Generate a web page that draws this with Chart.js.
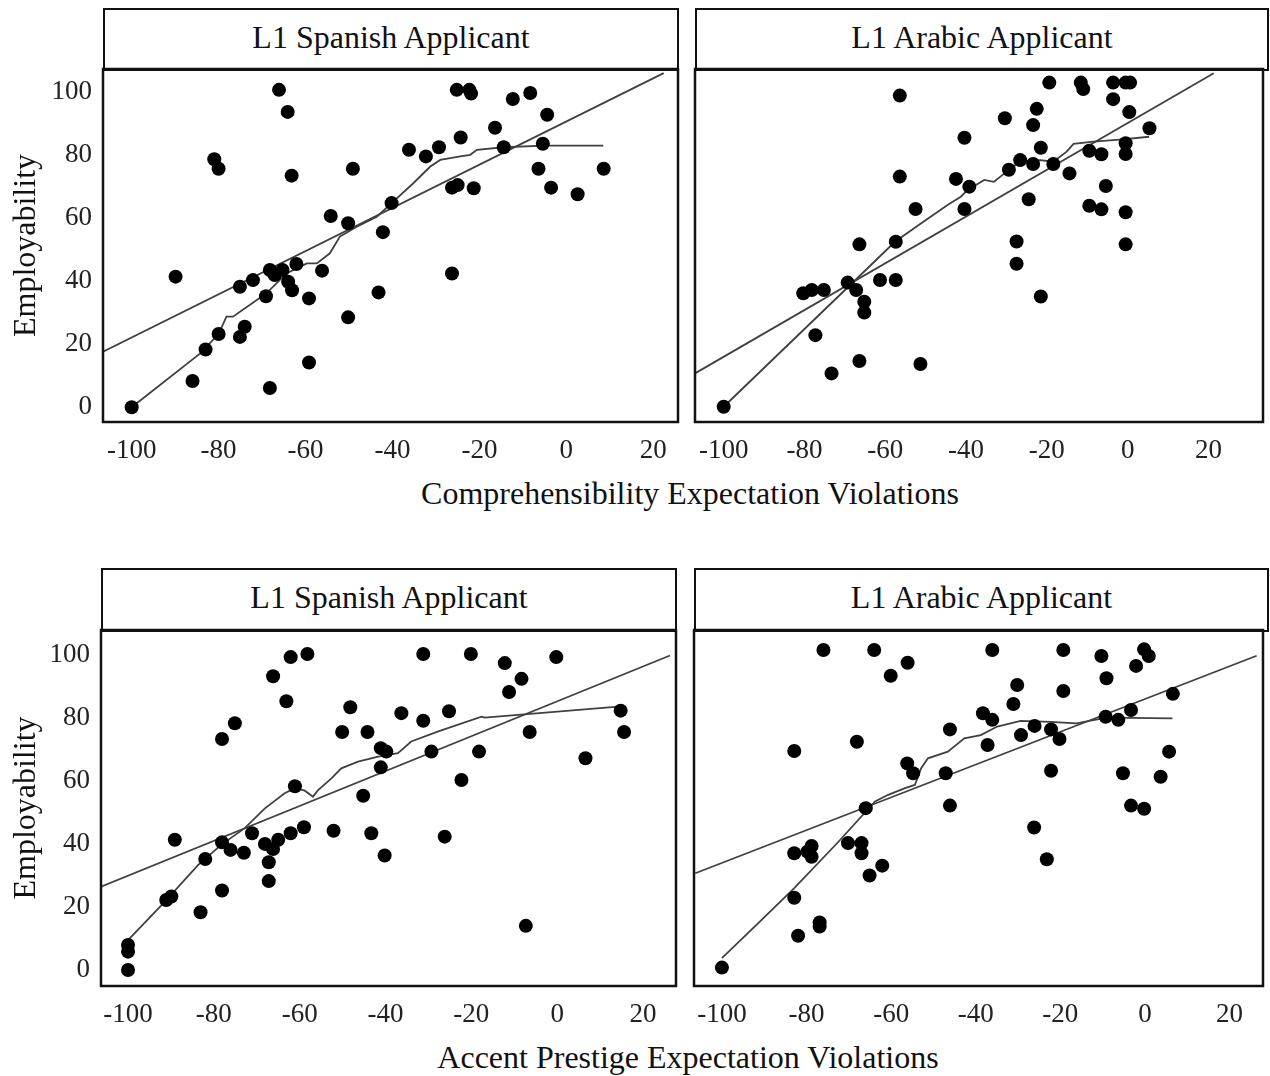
<!DOCTYPE html>
<html>
<head>
<meta charset="utf-8">
<script src="https://cdn.jsdelivr.net/npm/chart.js@4"></script>
<style>
  html, body { margin: 0; padding: 0; background: #fff; }
  body { width: 1270px; height: 1076px; position: relative; overflow: hidden; font-family: "Liberation Serif", "DejaVu Serif", serif; color: #111; }
  canvas { position: absolute; }
  .hdr { position: absolute; box-sizing: border-box; border: 2.5px solid #111; display: flex; align-items: center; justify-content: center; font-size: 32px; background: #fff; padding-bottom: 5px; }
  .xlab { position: absolute; font-size: 32px; white-space: nowrap; transform: translateX(-50%); }
</style>
</head>
<body>
<div class="hdr" id="h1" style="left:103px; top:8px; width:576px; height:63px;"></div>
<div class="hdr" id="h2" style="left:695px; top:8px; width:574px; height:63px;"></div>
<div class="hdr" id="h3" style="left:101px; top:568px; width:576px; height:64px;"></div>
<div class="hdr" id="h4" style="left:694px; top:568px; width:575px; height:64px;"></div>
<div class="xlab" id="xl1" style="left:690px; top:475px;"></div>
<div class="xlab" id="xl2" style="left:688px; top:1039px;"></div>

<canvas id="c1" width="690" height="420" style="left:0px; top:60px;"></canvas>
<canvas id="c2" width="585" height="420" style="left:685px; top:60px;"></canvas>
<canvas id="c3" width="690" height="420" style="left:0px; top:620px;"></canvas>
<canvas id="c4" width="586" height="420" style="left:684px; top:620px;"></canvas>

<script>
// ---- text ----
const panelTitles = ["L1 Spanish Applicant", "L1 Arabic Applicant"];
const yAxisTitle = "Employability";
const xAxisTitles = ["Comprehensibility Expectation Violations", "Accent Prestige Expectation Violations"];
const xTicks = [-100, -80, -60, -40, -20, 0, 20];
const yTicks = [0, 20, 40, 60, 80, 100];

// ---- Comprehensibility, L1 Spanish ----
const compSpanishX = [-100,-86,-83,-80,-75.1,-74,-89.9,-81,-80,-75.1,-72.1,-69.1,-68.2,-67.1,-65.3,-64,-63.1,-62.1,-68.2,-66.1,-64.1,-63.2,-59.2,-59.2,-56.2,-54.2,-50.2,-49.1,-43.2,-50.2,-42.2,-40.2,-36.2,-32.3,-29.3,-26.3,-26.3,-25,-24.3,-25.2,-22.3,-21.9,-21.3,-16.4,-14.4,-12.3,-8.3,-4.4,-5.4,-6.4,-3.5,2.6,8.6];
const compSpanishY = [0,8.3,18.3,23.2,22.3,25.5,41.4,78.6,75.6,38.2,40.3,35.2,43.5,41.9,43.5,39.8,37.1,45.4,6.1,100.6,93.6,73.4,34.5,14.2,43.3,60.6,58.3,75.6,36.4,28.5,55.5,64.7,81.6,79.5,82.4,42.4,69.6,70.4,85.5,100.6,100.6,99.4,69.4,88.6,82.4,97.7,99.6,92.7,83.5,75.6,69.6,67.5,75.6];
const compSpanishFitX = [-106.6, 22.4];
const compSpanishFitY = [17.6, 105.9];
const compSpanishSmoothX = [-100,-84.3,-80,-78.2,-76.7,-69,-64.4,-59.7,-57.4,-54.4,-52.1,-48.2,-43.6,-40.2,-35.2,-31.3,-29,-24.4,-22.1,-20.6,-14.4,-5.2,8.5];
const compSpanishSmoothY = [0,17,23.2,28.7,28.7,36.1,42.4,45.6,45.6,48.8,54.1,57.2,60.4,64.7,71,76.3,78.4,79.5,80,81.6,82.4,82.9,82.9];

// ---- Comprehensibility, L1 Arabic ----
const compArabicX = [-100,-77.3,-73.3,-66.4,-51.3,-80.3,-78.2,-75.2,-69.3,-67.2,-65.2,-65.2,-61.3,-57.4,-66.4,-57.4,-52.5,-56.4,-56.4,-42.5,-39.2,-40.4,-40.4,-30.4,-29.4,-26.6,-23.4,-23.4,-22.5,-21.5,-24.5,-27.5,-27.5,-21.5,-19.4,-18.4,-14.4,-11.6,-11,-9.5,-9.5,-6.5,-6.5,-5.4,-3.6,-3.6,-0.5,0.6,0.4,-0.5,-0.5,-0.5,-0.5,5.4];
const compArabicY = [0,22.1,10.3,14.1,13.2,35,36,36,38.3,36,32.4,29.1,39.1,39.1,50.1,50.9,61,71,96,70.3,67.9,61,83,89,73.1,76.1,74.9,86.9,91.9,79.9,64,51,44.1,34,100,74.9,72,100,98,79,62,77.9,60.9,68.1,100,94.9,100,100,90.9,81.3,78,60,50.1,85.9];
const compArabicFitX = [-107.1, 21.3];
const compArabicFitY = [10.3, 102.9];
const compArabicSmoothX = [-100,-67.4,-57.6,-51.1,-44.5,-41.3,-39.6,-35.5,-33.1,-31.5,-29.4,-26.6,-21.6,-18.4,-15.1,-13.4,-8.5,-1.2,5.3];
const compArabicSmoothY = [0,39.1,50.9,56.6,62.3,64.8,66.9,70,69.4,71,73.1,75.6,76.1,75.6,78.7,81.1,81.8,82.5,83.3];

// ---- Accent prestige, L1 Spanish ----
const accSpanishX = [-100,-100,-100,-91.1,-89.9,-83.1,-78.1,-82,-89.1,-78.1,-76.1,-73,-71.1,-68.1,-66.2,-65,-67.2,-67.2,-62.1,-59,-61.1,-78.1,-75.1,-66.2,-62.1,-58.2,-63.1,-52.1,-48.2,-50.1,-44.2,-45.2,-43.3,-40.2,-41.1,-39.8,-41.1,-36.3,-31.2,-31.2,-25.2,-29.3,-26.2,-22.3,-20.1,-18.2,-12.2,-8.3,-11.2,-6.4,-7.3,-0.2,6.6,14.8,15.6];
const accSpanishY = [0,5.8,7.9,22.2,23.3,18.3,25.2,35.2,41.3,40.5,38.1,37.2,43.4,40,38.4,41.3,34.2,28.2,43.4,45.3,58.3,73.3,78.3,93.2,99.3,100.3,85.3,44.2,83.4,75.5,75.5,55.3,43.4,36.3,70.4,69.3,64.3,81.5,100.3,79.1,82.1,69.3,42.3,60.3,100.3,69.3,97.4,92.4,88.2,75.5,14,99.3,67.2,82.3,75.5];
const accSpanishFitX = [-106.3, 26.3];
const accSpanishFitY = [26.4, 99.8];
const accSpanishSmoothX = [-100,-91.4,-83.7,-78.3,-72.8,-68.1,-63.5,-61.1,-58.8,-56.9,-55.7,-52.6,-50.3,-46.4,-41.7,-37.1,-34,-27.7,-17.6,-16.9,14.2];
const accSpanishSmoothY = [9.5,21.7,33.3,39.7,45,51.3,56.1,57.7,56.9,55,57.1,60.8,64,66.1,67.7,68.8,72.5,75.7,80.4,80.1,83.6];

// ---- Accent prestige, L1 Arabic ----
const accArabicX = [-100,-82,-76.9,-76.9,-82.9,-82.9,-79.8,-78.8,-78.8,-70.2,-67,-67,-65.1,-62.1,-66,-82.9,-68.1,-76,-64,-60.1,-56.1,-56.2,-54.8,-47.1,-46.1,-46.1,-38.3,-36.1,-37.2,-36.1,-30.2,-31.1,-29.3,-26.1,-22.2,-20.2,-22.2,-26.2,-23.2,-19.3,-19.3,-10.3,-9.1,-9.3,-6.3,-5.2,-3.3,-3.3,-0.2,-2.1,-0.2,0.9,3.7,5.7,6.6];
const accArabicY = [0,10,14.2,12.9,22,36,36.5,38.3,34.9,39.2,39.2,36,29,32.1,50.2,68.2,71.1,100,100,91.9,96,64.3,61.2,61.2,75,51,80.1,78,70.1,100,89,83,73.2,76.1,75,72,62,44.1,34.1,100,87.1,98.1,91.1,79,78,61.2,81.1,51,50,95,100.2,98.1,60.1,68,86.2];
const accArabicFitX = [-106.3, 26.4];
const accArabicFitY = [29.7, 98.2];
const accArabicSmoothX = [-100,-91.9,-82.9,-72.4,-63.8,-60.7,-56.7,-54.4,-52.9,-51.3,-46.6,-42.7,-38.8,-34.9,-29.4,-22.4,-16.2,-9.1,6.5];
const accArabicSmoothY = [3,13.4,25,39.7,52.3,54.4,56.5,57.5,62.8,65.9,68,72.2,73.2,75.9,77.7,77.4,76.9,78.7,78.5];

// ---- page text ----
document.getElementById('h1').textContent = panelTitles[0];
document.getElementById('h2').textContent = panelTitles[1];
document.getElementById('h3').textContent = panelTitles[0];
document.getElementById('h4').textContent = panelTitles[1];
document.getElementById('xl1').textContent = xAxisTitles[0];
document.getElementById('xl2').textContent = xAxisTitles[1];

const FONT = "'Liberation Serif', 'DejaVu Serif', serif";
const zip = (xs, ys) => xs.map((x, i) => ({ x: x, y: ys[i] }));

const boxPlugin = {
  id: 'boxPlugin',
  afterDraw(chart) {
    const a = chart.chartArea, ctx = chart.ctx;
    ctx.save();
    ctx.strokeStyle = '#111';
    ctx.lineWidth = 2.5;
    ctx.strokeRect(a.left, a.top, a.right - a.left, a.bottom - a.top);
    ctx.restore();
  }
};

function makePanel(id, p) {
  new Chart(document.getElementById(id), {
    type: 'scatter',
    data: {
      datasets: [
        { data: zip(p.x, p.y), pointRadius: 7, pointHoverRadius: 7, backgroundColor: '#000', borderWidth: 0, showLine: false, order: 1 },
        { data: zip(p.fitX, p.fitY), showLine: true, pointRadius: 0, borderColor: '#404040', borderWidth: 1.8, fill: false, order: 2 },
        { data: zip(p.smX, p.smY), showLine: true, pointRadius: 0, borderColor: '#404040', borderWidth: 1.8, fill: false, tension: 0, order: 3 }
      ]
    },
    options: {
      responsive: false,
      animation: false,
      devicePixelRatio: 1,
      layout: { padding: p.pad },
      plugins: { legend: { display: false }, tooltip: { enabled: false } },
      scales: {
        x: {
          type: 'linear', min: p.xmin, max: p.xmax,
          grid: { display: false, drawTicks: false },
          border: { display: false },
          ticks: { font: { family: FONT, size: 27 }, color: '#222', padding: 13, maxRotation: 0, autoSkip: false },
          afterBuildTicks: (s) => { s.ticks = xTicks.map(v => ({ value: v })); },
          afterFit: (s) => { s.height = p.xh; s.paddingLeft = 0; s.paddingRight = 0; }
        },
        y: {
          type: 'linear', min: p.ymin, max: p.ymax, display: p.showY,
          grid: { display: false, drawTicks: false },
          border: { display: false },
          title: { display: p.showY, text: yAxisTitle, font: { family: FONT, size: 32 }, color: '#111', padding: { top: 7, bottom: 0 } },
          ticks: { font: { family: FONT, size: 27 }, color: '#222', padding: 11 },
          afterBuildTicks: (s) => { s.ticks = yTicks.map(v => ({ value: v })); },
          afterFit: (s) => { if (p.showY) s.width = p.yw; s.paddingTop = 0; s.paddingBottom = 0; }
        }
      }
    },
    plugins: [boxPlugin]
  });
}

makePanel('c1', { x: compSpanishX, y: compSpanishY, fitX: compSpanishFitX, fitY: compSpanishFitY, smX: compSpanishSmoothX, smY: compSpanishSmoothY,
  xmin: -106.6, xmax: 25.7, ymin: -4.67, ymax: 107.2, showY: true, yw: 103, xh: 58, pad: { top: 9, right: 12, left: 0, bottom: 0 } });
makePanel('c2', { x: compArabicX, y: compArabicY, fitX: compArabicFitX, fitY: compArabicFitY, smX: compArabicSmoothX, smY: compArabicSmoothY,
  xmin: -107.1, xmax: 33.5, ymin: -4.7, ymax: 104.2, showY: false, yw: 0, xh: 58, pad: { top: 9, right: 2, left: 10, bottom: 0 } });
makePanel('c3', { x: accSpanishX, y: accSpanishY, fitX: accSpanishFitX, fitY: accSpanishFitY, smX: accSpanishSmoothX, smY: accSpanishSmoothY,
  xmin: -106.3, xmax: 27.7, ymin: -5.1, ymax: 107.9, showY: true, yw: 101, xh: 54, pad: { top: 10, right: 14, left: 0, bottom: 0 } });
makePanel('c4', { x: accArabicX, y: accArabicY, fitX: accArabicFitX, fitY: accArabicFitY, smX: accArabicSmoothX, smY: accArabicSmoothY,
  xmin: -106.6, xmax: 27.9, ymin: -5.8, ymax: 106.3, showY: false, yw: 0, xh: 54, pad: { top: 10, right: 2, left: 10, bottom: 0 } });
</script>
</body>
</html>
